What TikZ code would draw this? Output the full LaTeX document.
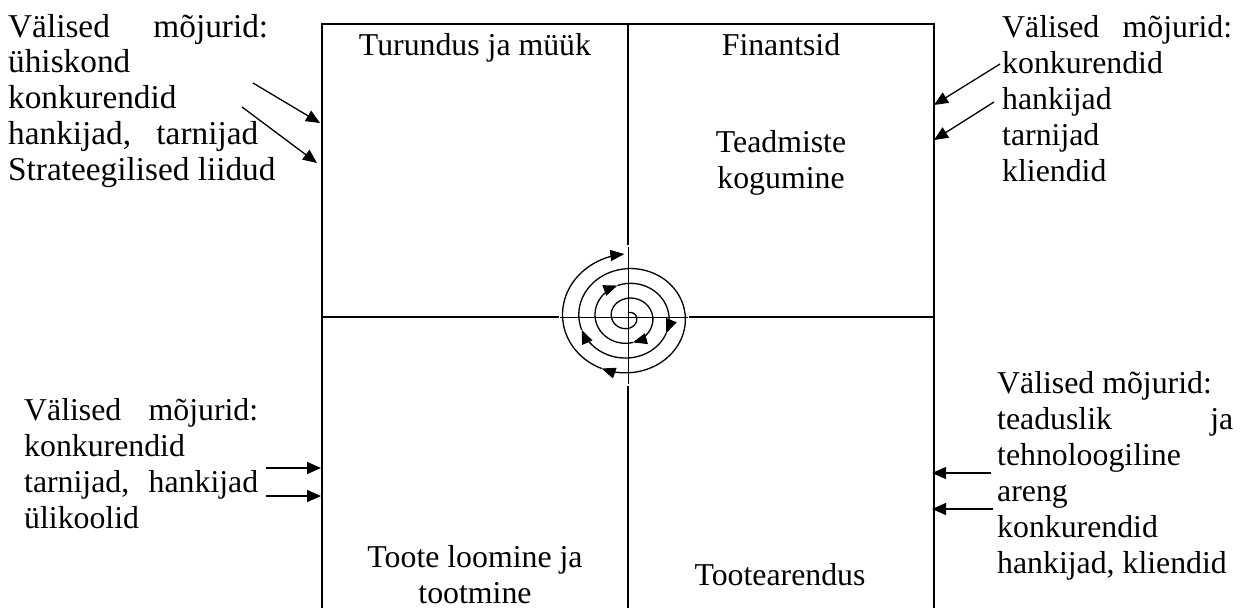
\documentclass[tikz,border=0pt]{standalone}
\usepackage{fontspec}
\setmainfont{Liberation Serif}
\usetikzlibrary{arrows.meta}
\newcommand{\jl}[1]{\makebox[\linewidth][s]{#1}}
\newcommand{\jw}[2]{\makebox[#1][s]{#2}}
\begin{document}
\begin{tikzpicture}[x=1pt,y=-1pt,
  boxline/.style={line width=2.3pt,line join=miter},
  axisline/.style={line width=1pt},
  spiralline/.style={line width=1.3pt},
  inarrow/.style={line width=1.3pt,-{Triangle[length=14pt,width=12pt]}},
  sparrow/.style={spiralline,-{Triangle[length=14pt,width=11pt]}},
  lbl/.style={inner sep=0pt,font=\fontsize{31.8}{36}\selectfont},
  biglbl/.style={inner sep=0pt,font=\fontsize{33.3}{35.8}\selectfont},
  declare function={sr(\t)=4+0.0411111*\t; spx(\t)=1.1*sr(\t)*cos(\t-90); spy(\t)=sr(\t)*sin(\t-90);}
]
\useasboundingbox[fill=white] (0,0) rectangle (1249,608);

% frame and quadrant lines
\draw[boxline] (322,608) -- (322,24) -- (934,24) -- (934,608);
\draw[boxline] (628,24) -- (628,245);
\draw[boxline] (628,386) -- (628,608);
\draw[boxline] (322,317) -- (559,317);
\draw[boxline] (689,317) -- (934,317);
\draw[axisline] (628,247) -- (628,384);
\draw[axisline] (560,317) -- (688,317);

% spiral
\begin{scope}[shift={(628,317)}]
\draw[sparrow] plot[domain=0:530,samples=90,smooth] ({spx(\x)},{spy(\x)});
\draw[sparrow] plot[domain=530:703,samples=40,smooth] ({spx(\x)},{spy(\x)});
\draw[sparrow] plot[domain=703:835,samples=30,smooth] ({spx(\x)},{spy(\x)});
\draw[sparrow] plot[domain=835:973,samples=30,smooth] ({spx(\x)},{spy(\x)});
\draw[sparrow] plot[domain=973:1285,samples=60,smooth] ({spx(\x)},{spy(\x)});
\draw[sparrow] plot[domain=1285:1437,samples=30,smooth] ({spx(\x)},{spy(\x)});
\end{scope}

% quadrant labels
\node[lbl,anchor=base] (q1) at (475,55) {Turundus ja müük};
\node[lbl,anchor=base] (q2) at (781,55) {Finantsid};
\node[lbl,anchor=base] (q2b) at (781,152) {\parbox[t]{200pt}{\centering Teadmiste\\kogumine}};
\node[lbl,anchor=base] (q3) at (475,567) {\parbox[t]{260pt}{\centering Toote loomine ja\\tootmine}};
\node[lbl,anchor=base] (q4) at (780,585) {Tootearendus};

% external influence texts
\node[biglbl,anchor=base west] (tl) at (8,37) {\parbox[t]{270pt}{\jw{260pt}{Välised mõjurid:}\\ühiskond\\konkurendid\\\jw{250pt}{hankijad, tarnijad}\\Strateegilised liidud}};
\node[lbl,anchor=base west] (tr) at (1002,37) {\parbox[t]{230pt}{\jl{Välised mõjurid:}\\konkurendid\\hankijad\\tarnijad\\kliendid}};
\node[lbl,anchor=base west] (bl) at (24,420) {\parbox[t]{234pt}{\jl{Välised mõjurid:}\\konkurendid\\\jl{tarnijad, hankijad}\\ülikoolid}};
\node[lbl,anchor=base west] (br) at (997,393) {\parbox[t]{236pt}{Välised mõjurid:\\\jl{teaduslik ja}\\tehnoloogiline\\areng\\konkurendid\\hankijad, kliendid}};

% arrow end points
\coordinate (tls1) at (253,83);  \coordinate (tle1) at (320,123);
\coordinate (tls2) at (242,107); \coordinate (tle2) at (317,163);
\coordinate (trs1) at (1000,64); \coordinate (tre1) at (934,105);
\coordinate (trs2) at (994,102); \coordinate (tre2) at (934,140);
\coordinate (bls1) at (266,468); \coordinate (ble1) at (321,468);
\coordinate (bls2) at (266,496); \coordinate (ble2) at (321,496);
\coordinate (brs1) at (991,473); \coordinate (bre1) at (932,473);
\coordinate (brs2) at (993,509); \coordinate (bre2) at (932,509);

\draw[inarrow] (tls1) -- (tle1);
\draw[inarrow] (tls2) -- (tle2);
\draw[inarrow] (trs1) -- (tre1);
\draw[inarrow] (trs2) -- (tre2);
\draw[inarrow] (bls1) -- (ble1);
\draw[inarrow] (bls2) -- (ble2);
\draw[inarrow] (brs1) -- (bre1);
\draw[inarrow] (brs2) -- (bre2);
\end{tikzpicture}
\end{document}
